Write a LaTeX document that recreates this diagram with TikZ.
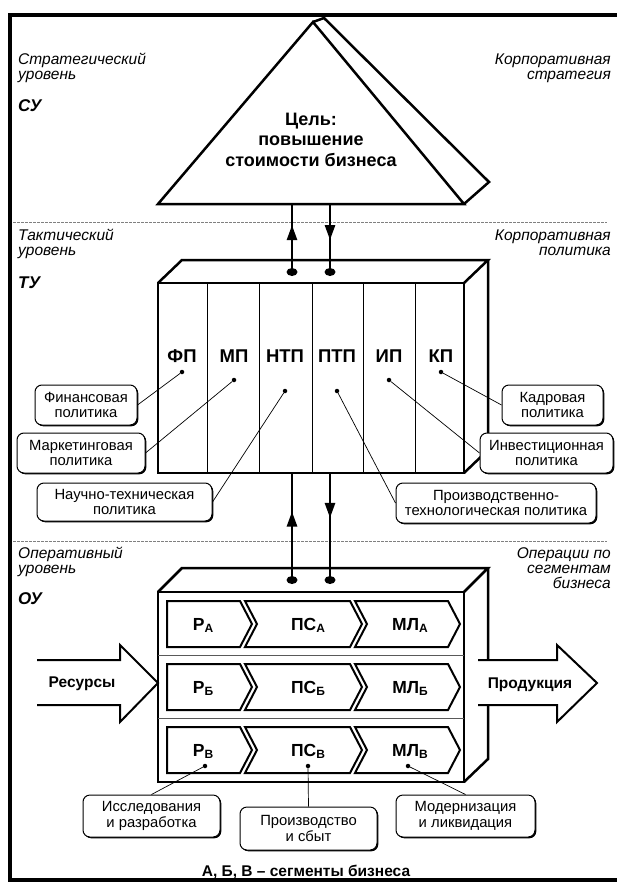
\documentclass[tikz,border=0pt]{standalone}
\usepackage{fontspec}
\setmainfont{Liberation Sans}
\usetikzlibrary{shapes.geometric,arrows.meta,decorations.markings,shadows}

\newcommand\seglet[1]{\raisebox{-2pt}{\fontsize{12}{12}\selectfont #1}}

\tikzset{
  frameline/.style={line width=3.5pt},
  levelsep/.style={gray, line width=0.6pt, dash pattern=on 2.5pt off 1.5pt},
  bodyline/.style={line width=2.5pt, line join=miter},
  thinsep/.style={line width=0.8pt},
  rowsep/.style={line width=0.8pt, gray!70!black},
  chevron/.style={line width=2pt, fill=white, line join=miter},
  lvl/.style={font=\itshape\fontsize{15.5}{15}\selectfont, inner sep=0pt, align=left},
  lvlr/.style={lvl, align=right},
  lvlcode/.style={font=\bfseries\itshape\fontsize{17}{17}\selectfont, inner sep=0pt},
  goaltext/.style={font=\bfseries\fontsize{18}{20.5}\selectfont, inner sep=0pt, align=center},
  collab/.style={font=\bfseries\fontsize{18.5}{18.5}\selectfont, inner sep=0pt},
  seglab/.style={font=\bfseries\fontsize{17.5}{17.5}\selectfont, inner sep=0pt},
  flowlab/.style={font=\bfseries\fontsize{15.5}{15.5}\selectfont, inner sep=0pt},
  callout/.style={draw, line width=1pt, rounded corners=7pt, fill=white, align=center,
    inner sep=0pt, font=\fontsize{14.8}{15.5}\selectfont,
    drop shadow={shadow xshift=1.3pt, shadow yshift=-1.3pt, opacity=1, fill=black}},
  pin/.style={line width=0.7pt},
  sdot/.style={circle, fill, minimum size=4.5pt, inner sep=0pt},
  bigdot/.style={ellipse, fill, minimum width=11pt, minimum height=8pt, inner sep=0pt},
  flow/.style={line width=2.6pt, postaction={decorate}},
  headat/.style={decoration={markings, mark=at position #1 with {\arrow{Triangle[length=15pt,width=10pt]}}}},
  bigarrow/.style={line width=2pt, fill=white, line join=miter},
}

\begin{document}
\begin{tikzpicture}[x=1pt,y=-1pt]
\useasboundingbox (0,0) rectangle (617,883);
\fill[white] (0,0) rectangle (617,883);

% outer frame (open on the right)
\draw[frameline] (617,15) -- (10,15) -- (10,880) -- (617,880);

% level separators
\draw[levelsep] (13,222) -- (607,222);
\draw[levelsep] (13,541) -- (607,541);

% level captions (base anchor = baseline of the last line)
\node[lvl, anchor=base west] (lvlS) at (18,79) {Стратегический\\уровень};
\node[lvlcode, anchor=base west] (codeS) at (18,111) {СУ};
\node[lvlr, anchor=base east] (capS) at (611,79) {Корпоративная\\стратегия};
\node[lvl, anchor=base west] (lvlT) at (18,255) {Тактический\\уровень};
\node[lvlcode, anchor=base west] (codeT) at (18,288) {ТУ};
\node[lvlr, anchor=base east] (capT) at (611,255) {Корпоративная\\политика};
\node[lvl, anchor=base west] (lvlO) at (18,573) {Оперативный\\уровень};
\node[lvlcode, anchor=base west] (codeO) at (18,604) {ОУ};
\node[lvlr, anchor=base east] (capO) at (611,588) {Операции по\\сегментам\\бизнеса};

% strategic pyramid
\draw[bodyline] (313,22) -- (158,204) -- (464,204) -- cycle;
\draw[bodyline] (313,22) -- (324,18) -- (489,182) -- (464,204);
\node[goaltext, anchor=base] (goal) at (311,166) {Цель:\\повышение\\стоимости бизнеса};

% tactical block
\draw[bodyline] (158,283) rectangle (464,473);
\draw[bodyline] (158,283) -- (182,260) -- (488,260) -- (464,283);
\draw[bodyline] (488,260) -- (488,450) -- (464,473);
\foreach \x in {207,259,312,363,415} \draw[thinsep] (\x,283) -- (\x,473);
\foreach \x/\t/\n in {182/ФП/1,234/МП/2,285/НТП/3,337/ПТП/4,389/ИП/5,441/КП/6}
  \node[collab, anchor=base] (col\n) at (\x,362) {\t};

% policy pins
\node[sdot] (pfp) at (182,372) {};
\node[sdot] (pmp) at (234,380) {};
\node[sdot] (pntp) at (285,391) {};
\node[sdot] (pptp) at (337,391) {};
\node[sdot] (pip) at (389,380) {};
\node[sdot] (pkp) at (441,372) {};

% links pyramid <-> tactical block
\coordinate (baseU) at (292,204);
\coordinate (baseD) at (330,204);
\node[bigdot] (topU) at (292,272) {};
\node[bigdot] (topD) at (330,272) {};
\draw[flow, headat=0.69] (topU.center) -- (baseU);
\draw[flow, headat=0.53] (baseD) -- (topD.center);

% links tactical block <-> operational block
\coordinate (botU) at (292,473);
\coordinate (botD) at (330,473);
\node[bigdot] (opU) at (292,580) {};
\node[bigdot] (opD) at (330,580) {};
\draw[flow, headat=0.64] (opU.center) -- (botU);
\draw[flow, headat=0.42] (botD) -- (opD.center);

% policy callouts
\node[callout, minimum width=102pt, minimum height=40pt] (cfin) at (86,405) {Финансовая\\политика};
\node[callout, minimum width=128pt, minimum height=40pt] (cmkt) at (81,453) {Маркетинговая\\политика};
\node[callout, minimum width=175pt, minimum height=38pt] (cnt) at (124.5,502) {Научно-техническая\\политика};
\node[callout, minimum width=101pt, minimum height=40pt] (ckad) at (552.5,405) {Кадровая\\политика};
\node[callout, minimum width=133pt, minimum height=40pt] (cinv) at (546.5,453) {Инвестиционная\\политика};
\node[callout, minimum width=200pt, minimum height=40pt] (cpt) at (496,503) {Производственно-\\технологическая политика};
\draw[pin] (pfp) -- (cfin.east);
\draw[pin] (pmp) -- (cmkt.east);
\draw[pin] (pntp) -- (cnt.east);
\draw[pin] (pkp) -- (ckad.west);
\draw[pin] (pip) -- (cinv.west);
\draw[pin] (pptp) -- (cpt.west);

% operational block
\draw[bodyline] (158,592) rectangle (464,782);
\draw[bodyline] (158,592) -- (182,568) -- (488,568) -- (464,592);
\draw[bodyline] (488,568) -- (488,759) -- (464,782);
\draw[rowsep] (158,655) -- (464,655);
\draw[rowsep] (158,718) -- (464,718);

% business segment chains
\foreach \t/\s/\i in {592/А/1,655/Б/2,718/В/3} {
  \draw[chevron] (167,\t+9) -- (240,\t+9) -- (252,\t+32) -- (240,\t+55) -- (167,\t+55) -- cycle;
  \draw[chevron] (245,\t+9) -- (350,\t+9) -- (362,\t+32) -- (350,\t+55) -- (245,\t+55) -- (257,\t+32) -- cycle;
  \draw[chevron] (355,\t+9) -- (448,\t+9) -- (460,\t+32) -- (448,\t+55) -- (355,\t+55) -- (367,\t+32) -- cycle;
  \node[seglab, anchor=base] (r\i) at (203,\t+38) {Р\seglet{\s}};
  \node[seglab, anchor=base] (ps\i) at (308,\t+38) {ПС\seglet{\s}};
  \node[seglab, anchor=base] (ml\i) at (410,\t+38) {МЛ\seglet{\s}};
}

% resources in, products out
\draw[bigarrow] (37,660) -- (120,660) -- (120,645) -- (158,683) -- (120,722) -- (120,705) -- (37,705);
\node[flowlab, anchor=base] (res) at (82,687) {Ресурсы};
\draw[bigarrow] (478,660) -- (557,660) -- (557,645) -- (597,683) -- (557,722) -- (557,705) -- (478,705);
\node[flowlab, anchor=base] (prod) at (530,688) {Продукция};

% stage callouts
\node[sdot] (pr) at (205,766) {};
\node[sdot] (pps) at (308,766) {};
\node[sdot] (pml) at (408,766) {};
\node[callout, minimum width=137pt, minimum height=42pt] (crd) at (151.5,816) {Исследования\\и разработка};
\node[callout, minimum width=137pt, minimum height=43pt] (cps) at (308.5,828.5) {Производство\\и сбыт};
\node[callout, minimum width=139pt, minimum height=42pt] (cml) at (465.5,816) {Модернизация\\и ликвидация};
\draw[pin] (pr) -- (crd.north);
\draw[pin] (pps) -- (cps.north);
\draw[pin] (pml) -- (cml.north);

\node[flowlab, anchor=base] (legend) at (306,876) {А, Б, В – сегменты бизнеса};
\end{tikzpicture}
\end{document}
